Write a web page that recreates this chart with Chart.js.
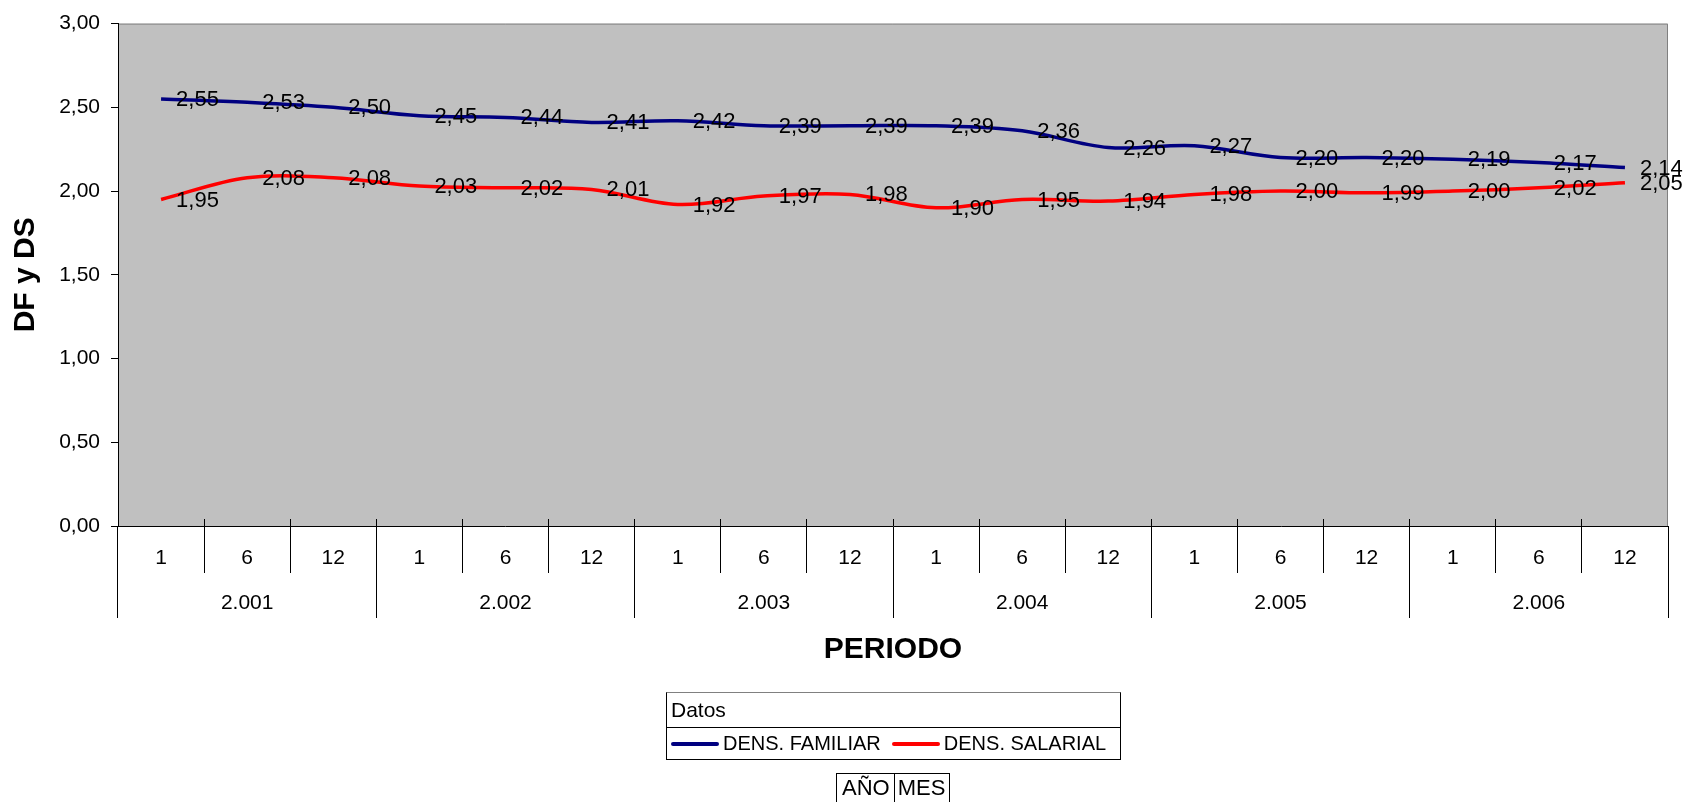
<!DOCTYPE html>
<html><head><meta charset="utf-8">
<script src="https://cdn.jsdelivr.net/npm/chart.js@4.4.1/dist/chart.umd.min.js"></script>
<style>
html,body{margin:0;padding:0;background:#fff;overflow:hidden}
#wrap{position:relative;width:1698px;height:802px;overflow:hidden}
#c{position:absolute;left:0;top:0}
.lg{position:absolute;font-family:'Liberation Sans',Arial,sans-serif;color:#000;box-sizing:border-box}
#legend{left:666px;top:692px;width:455px;height:68px;border:1px solid #000;border-top-color:#808080}
#lgHead{height:35px;border-bottom:1px solid #000;font-size:21px;line-height:34px;padding-left:4px;box-sizing:border-box}
#lgItems{height:31px;display:flex;align-items:center;padding-left:4px;font-size:20px;white-space:nowrap}
.sw{display:inline-block;width:48px;height:4px;border-radius:2px;margin-right:4px}
.it{display:flex;align-items:center;margin-right:11px}
#fields{left:836px;top:773px;height:40px;border:1px solid #000;border-bottom:none;display:flex;font-size:22px;line-height:28px}
#fields div{padding:0 4px 0 5px}
#fields div+div{border-left:1px solid #000;padding-left:3px}
</style></head><body>
<div id="wrap"><canvas id="c" width="1698" height="802"></canvas>
<div id="legend" class="lg"><div id="lgHead">Datos</div><div id="lgItems"></div></div>
<div id="fields" class="lg"></div>
</div>
<script>
const years = ['2.001','2.002','2.003','2.004','2.005','2.006'];
const monthLabels = ['1','6','12','1','6','12','1','6','12','1','6','12','1','6','12','1','6','12'];
const densFamiliar = [2.55,2.53,2.50,2.45,2.44,2.41,2.42,2.39,2.39,2.39,2.36,2.26,2.27,2.20,2.20,2.19,2.17,2.14];
const densSalarial = [1.95,2.08,2.08,2.03,2.02,2.01,1.92,1.97,1.98,1.90,1.95,1.94,1.98,2.00,1.99,2.00,2.02,2.05];
const seriesNames = ['DENS. FAMILIAR','DENS. SALARIAL'];
const legendTitle = 'Datos';
const fieldNames = ['AÑO','MES'];
const yMin = 0, yMax = 3, yStep = 0.5;

const FONT = "'Liberation Sans', Arial, sans-serif";
Chart.defaults.font.family = FONT;
Chart.defaults.color = '#000';
const fmt = v => v.toFixed(2).replace('.', ',');

const plotBg = {
  id: 'plotBg',
  beforeDraw(chart) {
    const {ctx, chartArea: a} = chart;
    ctx.save();
    ctx.fillStyle = '#c0c0c0';
    ctx.fillRect(a.left, a.top, a.right - a.left, a.bottom - a.top);
    ctx.strokeStyle = '#808080';
    ctx.lineWidth = 1;
    ctx.beginPath();
    ctx.moveTo(a.left, a.top + 0.5);
    ctx.lineTo(a.right - 0.5, a.top + 0.5);
    ctx.lineTo(a.right - 0.5, a.bottom);
    ctx.stroke();
    ctx.restore();
  }
};
const innerTicks = {
  id: 'innerTicks',
  afterDraw(chart) {
    const xs = chart.scales.x, ctx = chart.ctx;
    const n = xs.getLabels().length, w = (xs.right - xs.left) / n;
    ctx.save();
    ctx.strokeStyle = '#000'; ctx.lineWidth = 1;
    ctx.beginPath();
    for (let i = 1; i < n; i++) {
      const x = Math.floor(xs.left + i * w) + 0.5;
      ctx.moveTo(x, xs.top - 7); ctx.lineTo(x, xs.top);
    }
    ctx.stroke();
    ctx.restore();
  }
};
const dataLabels = {
  id: 'dataLabels',
  afterDatasetsDraw(chart) {
    const ctx = chart.ctx;
    ctx.save();
    ctx.font = '22px ' + FONT;
    ctx.fillStyle = '#000';
    ctx.textAlign = 'left';
    ctx.textBaseline = 'middle';
    chart.data.datasets.forEach((ds, i) => {
      chart.getDatasetMeta(i).data.forEach((pt, j) => {
        ctx.fillText(fmt(ds.data[j]), pt.x + 15, pt.y + 1);
      });
    });
    ctx.restore();
  }
};

const chart = new Chart(document.getElementById('c'), {
  type: 'line',
  data: {
    labels: monthLabels,
    datasets: [
      {label: seriesNames[0], data: densFamiliar, borderColor: '#000080', backgroundColor: '#000080', borderWidth: 3.5, pointRadius: 0, tension: 0.35, fill: false},
      {label: seriesNames[1], data: densSalarial, borderColor: '#ff0000', backgroundColor: '#ff0000', borderWidth: 3.5, pointRadius: 0, tension: 0.35, fill: false}
    ]
  },
  options: {
    responsive: false,
    animation: false,
    events: [],
    layout: {padding: {left: 0, top: 19, right: 30, bottom: 134}},
    plugins: {legend: {display: false}, tooltip: {enabled: false}},
    scales: {
      x: {
        type: 'category', position: 'bottom', offset: true, weight: 0,
        grid: {display: true, drawOnChartArea: false, offset: true, tickLength: 47, color: '#000', lineWidth: 1},
        border: {display: true, color: '#000', width: 1},
        ticks: {autoSkip: false, maxRotation: 0, minRotation: 0, padding: -27, color: '#000', font: {size: 21}},
        afterFit(s) { s.height = 47; }
      },
      x2: {
        type: 'category', position: 'bottom', labels: years, offset: true, weight: 1,
        grid: {display: true, drawOnChartArea: false, offset: true, tickLength: 45, color: '#000', lineWidth: 1},
        border: {display: false},
        ticks: {autoSkip: false, maxRotation: 0, minRotation: 0, padding: -27, color: '#000', font: {size: 21}},
        title: {display: true, text: 'PERIODO', color: '#000', font: {size: 30, weight: 'bold'}, padding: {top: 0, bottom: 0}},
        afterFit(s) { s.height = 95; }
      },
      y: {
        min: yMin, max: yMax,
        ticks: {stepSize: yStep, callback: v => fmt(v), padding: 11, color: '#000', font: {size: 21}},
        grid: {drawOnChartArea: false, tickLength: 7, color: '#000'},
        border: {display: true, color: '#000', width: 1},
        title: {display: true, text: 'DF y DS', color: '#000', font: {size: 30, weight: 'bold'}, padding: {top: 8, bottom: 0}},
        afterFit(s) { s.width = 118; }
      }
    }
  },
  plugins: [plotBg, dataLabels, innerTicks]
});

// legend built from the chart's datasets
document.getElementById('lgHead').textContent = legendTitle;
const items = document.getElementById('lgItems');
chart.data.datasets.forEach(ds => {
  const it = document.createElement('span'); it.className = 'it';
  const sw = document.createElement('span'); sw.className = 'sw'; sw.style.background = ds.borderColor;
  it.appendChild(sw); it.appendChild(document.createTextNode(ds.label));
  items.appendChild(it);
});
const fields = document.getElementById('fields');
fieldNames.forEach(f => { const d = document.createElement('div'); d.textContent = f; fields.appendChild(d); });
</script>
</body></html>
